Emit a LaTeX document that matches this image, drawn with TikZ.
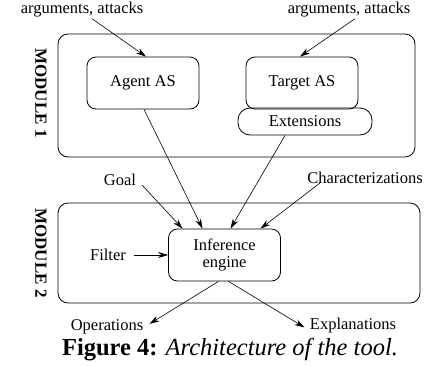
\documentclass[tikz,border=0pt]{standalone}
\usepackage{fontspec}
\setmainfont{Liberation Serif}
\usetikzlibrary{arrows.meta}
\begin{document}
\begin{tikzpicture}[x=1pt, y=-1pt,
        box/.style={draw, rounded corners=9pt, line width=0.8pt, minimum width=112pt, minimum height=52pt, align=center},
        lbl/.style={inner sep=1pt, font=\fontsize{16.5}{19}\selectfont},
        modlbl/.style={rotate=-90, font=\bfseries\fontsize{17}{19}\selectfont},
        arr/.style={-{Stealth[length=10pt, width=6pt]}, line width=0.6pt}]

        \useasboundingbox (0,0) rectangle (438,365);

        \draw[line width=0.8pt, rounded corners=10pt] (58,34) rectangle (415,157);
        \draw[line width=0.8pt, rounded corners=10pt] (58,203) rectangle (420,303);
        \node[modlbl] (mod1) at (41,93) {MODULE 1};
        \node[modlbl] (mod2) at (41,253) {MODULE 2};

        \node[box, lbl] (agent) at (143,83) {Agent AS};
        \node[box, lbl] (target) at (302,83) {Target AS};
        \node[box, lbl, minimum width=134pt, minimum height=27pt, rounded corners=12pt] (ext) at (305,121.5) {Extensions};
        \node[box, lbl, font=\fontsize{16.5}{17}\selectfont] (infer) at (224.5,255) {Inference\\engine};

        \node[lbl] (args1) at (82,10) {arguments, attacks};
        \node[lbl] (args2) at (349,10) {arguments, attacks};
        \node[lbl] (goal) at (120,180) {Goal};
        \node[lbl] (charac) at (365,178) {Characterizations};
        \node[lbl] (filter) at (108,255) {Filter};
        \node[lbl] (oper) at (107,327) {Operations};
        \node[lbl] (expl) at (353,326) {Explanations};

        \draw[arr] ([xshift=10pt]args1.south) -- ([xshift=3pt]agent.north);
        \draw[arr] ([xshift=6pt]args2.south) -- ([xshift=-2pt]target.north);
        \draw[arr] ([xshift=1pt]agent.south) -- ([xshift=-22pt]infer.north);
        \draw[arr] ([xshift=-20pt]ext.south) -- ([xshift=6pt]infer.north);
        \draw[arr] ([xshift=22pt, yshift=2pt]goal.south) -- ([xshift=-42pt]infer.north);
        \draw[arr] ([xshift=-45pt, yshift=2pt]charac.south) -- ([xshift=36pt]infer.north);
        \draw[arr, shorten <=7pt] (filter.east) -- (infer.west);
        \draw[arr, shorten >=6pt] ([xshift=-6pt]infer.south) -- (oper.east);
        \draw[arr, shorten >=5pt] ([xshift=4pt]infer.south) -- ([yshift=-4pt]expl.west);

        \node[font=\fontsize{24.5}{26}\selectfont] (caption) at (230,350) {\textbf{Figure 4:} \textit{Architecture of the tool.}};
    \end{tikzpicture}
\end{document}
